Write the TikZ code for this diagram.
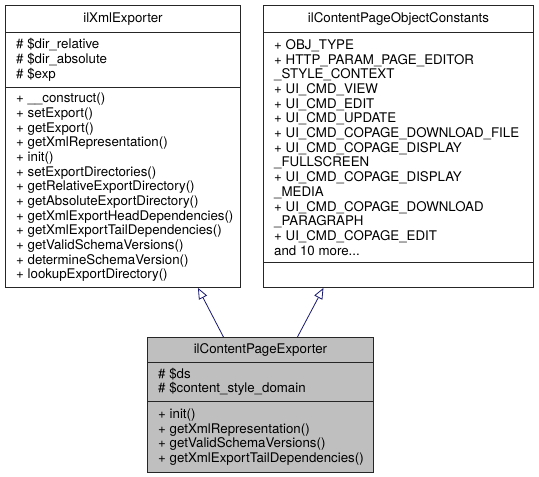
\documentclass[tikz,border=0pt]{standalone}
\usepackage{fontspec}
\setmainfont{TeX Gyre Heros}
\usepackage{tikz}
\usetikzlibrary{arrows.meta}

\definecolor{edgeblue}{RGB}{25,25,112}
\definecolor{classgray}{RGB}{191,191,191}

\tikzset{
  part/.style={draw=black!85, line width=0.9pt, inner sep=0pt, anchor=north west, minimum width=#1},
  members/.style={anchor=west, align=left, inner sep=0pt},
  inherit/.style={edgeblue, line width=0.8pt, -{Triangle[open, length=11pt, width=9pt]}}
}

\begin{document}
\begin{tikzpicture}[x=1pt,y=-1pt,font=\fontsize{13.3}{14.67}\selectfont]
\useasboundingbox (0,0) rectangle (539,477);

    % ilXmlExporter
    \node[part=235, minimum height=27] (xmlT) at (5,5) {ilXmlExporter};
    \node[part=235, minimum height=55] (xmlA) at (5,32) {};
    \node[members] at ([xshift=11]xmlA.west) {\# \$dir\_relative\\\# \$dir\_absolute\\\# \$exp};
    \node[part=235, minimum height=200] (xmlO) at (5,87) {};
    \node[members] at ([xshift=11]xmlO.west) {+ \_\_construct()\\+ setExport()\\+ getExport()\\+ getXmlRepresentation()\\+ init()\\+ setExportDirectories()\\+ getRelativeExportDirectory()\\+ getAbsoluteExportDirectory()\\+ getXmlExportHeadDependencies()\\+ getXmlExportTailDependencies()\\+ getValidSchemaVersions()\\+ determineSchemaVersion()\\+ lookupExportDirectory()};

    % ilContentPageObjectConstants
    \node[part=270, minimum height=27] (constT) at (263,5) {ilContentPageObjectConstants};
    \node[part=270, minimum height=230] (constA) at (263,32) {};
    \node[members] at ([xshift=11]constA.west) {+ OBJ\_TYPE\\+ HTTP\_PARAM\_PAGE\_EDITOR\\\_STYLE\_CONTEXT\\+ UI\_CMD\_VIEW\\+ UI\_CMD\_EDIT\\+ UI\_CMD\_UPDATE\\+ UI\_CMD\_COPAGE\_DOWNLOAD\_FILE\\+ UI\_CMD\_COPAGE\_DISPLAY\\\_FULLSCREEN\\+ UI\_CMD\_COPAGE\_DISPLAY\\\_MEDIA\\+ UI\_CMD\_COPAGE\_DOWNLOAD\\\_PARAGRAPH\\+ UI\_CMD\_COPAGE\_EDIT\\and 10 more...};
    \node[part=270, minimum height=25] (constO) at (263,262) {};

    % ilContentPageExporter
    \node[part=226, minimum height=25, fill=classgray] (cpeT) at (147,337) {ilContentPageExporter};
    \node[part=226, minimum height=39, fill=classgray] (cpeA) at (147,362) {};
    \node[members] at ([xshift=11]cpeA.west) {\# \$ds\\\# \$content\_style\_domain};
    \node[part=226, minimum height=71, fill=classgray] (cpeO) at (147,401) {};
    \node[members] at ([xshift=11]cpeO.west) {+ init()\\+ getXmlRepresentation()\\+ getValidSchemaVersions()\\+ getXmlExportTailDependencies()};

    % inheritance
    \draw[inherit] ([xshift=-37]cpeT.north) -- ([xshift=75]xmlO.south);
    \draw[inherit] ([xshift=37]cpeT.north) -- ([xshift=-75]constO.south);

\end{tikzpicture}
\end{document}
